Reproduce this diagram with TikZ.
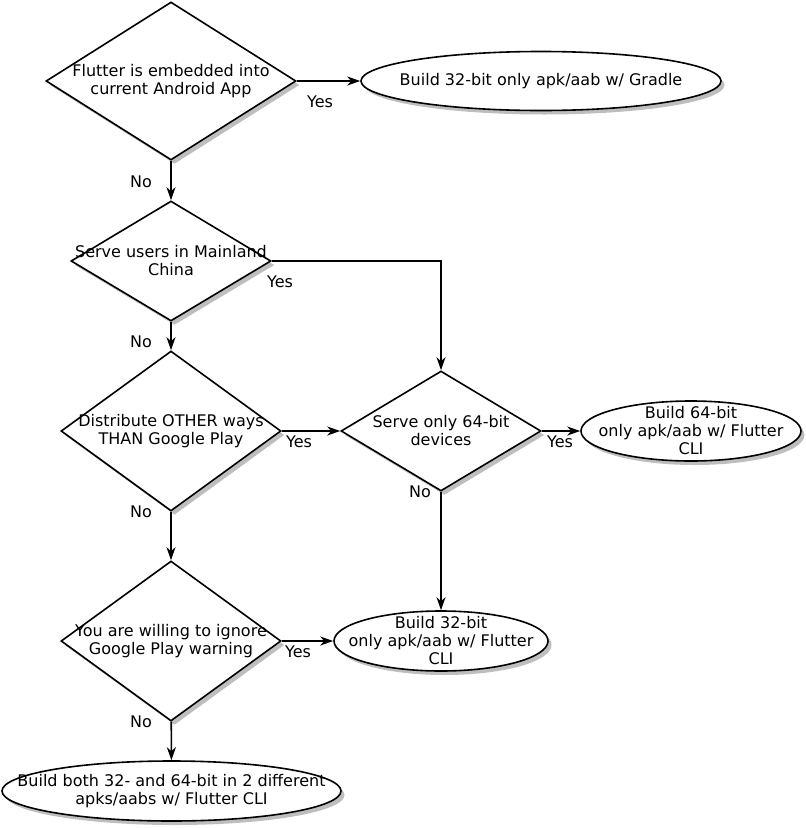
\documentclass[tikz,border=0pt]{standalone}
\usepackage{fontspec}
\setmainfont{DejaVu Sans}
\usepackage{tikz}
\usetikzlibrary{arrows.meta,positioning,shapes.geometric,calc,shadows}
\definecolor{FlowInk}{HTML}{000000}
\definecolor{FlowShade}{HTML}{BEBEBE}

\begin{document}
\begin{tikzpicture}[x=1pt,y=-1pt,font=\fontsize{16}{18}\selectfont,
  flowshadow/.style={drop shadow={shadow xshift=3.5pt,shadow yshift=-4pt,fill=FlowShade,opacity=1}},
  decision/.style={diamond,draw=FlowInk,line width=1.6pt,fill=white,inner sep=0pt,flowshadow},
  outcome/.style={ellipse,draw=FlowInk,line width=1.6pt,fill=white,inner sep=0pt,flowshadow},
  txt/.style={align=center,inner sep=0pt},
  lbl/.style={inner sep=0pt},
  arr/.style={-{Stealth[length=13pt,width=9pt,inset=4pt]},line width=1.6pt,draw=FlowInk}]
\useasboundingbox (0,0) rectangle (806,828);

% questions
\node[decision,minimum width=250pt,minimum height=158pt] (q1) at (171,81) {};
\node[decision,minimum width=200pt,minimum height=120pt] (q2) at (171,261) {};
\node[decision,minimum width=220pt,minimum height=160pt] (q3) at (171,431) {};
\node[decision,minimum width=200pt,minimum height=120pt] (q4) at (441,431) {};
\node[decision,minimum width=220pt,minimum height=160pt] (q5) at (171,641) {};

% results
\node[outcome,minimum width=360pt,minimum height=59pt] (r1) at (541,81) {};
\node[outcome,minimum width=220pt,minimum height=60pt] (r2) at (691,431) {};
\node[outcome,minimum width=214pt,minimum height=60pt] (r3) at (441,641) {};
\node[outcome,minimum width=339pt,minimum height=60pt] (r4) at (171.5,791) {};

\node[txt] (q1t) at (q1) {Flutter is embedded into\\current Android App};
\node[txt] (q2t) at (q2) {Serve users in Mainland\\China};
\node[txt] (q3t) at (q3) {Distribute OTHER ways\\THAN Google Play};
\node[txt] (q4t) at (q4) {Serve only 64-bit\\devices};
\node[txt] (q5t) at (q5) {You are willing to ignore\\Google Play warning};
\node[txt] (r1t) at (r1) {Build 32-bit only apk/aab w/ Gradle};
\node[txt] (r2t) at (r2) {Build 64-bit\\only apk/aab w/ Flutter\\CLI};
\node[txt] (r3t) at (r3) {Build 32-bit\\only apk/aab w/ Flutter\\CLI};
\node[txt] (r4t) at (r4) {Build both 32- and 64-bit in 2 different\\apks/aabs w/ Flutter CLI};

% connectors
\draw[arr] (q1) -- (r1);
\draw[arr] (q1) -- (q2);
\draw[arr] (q2.east) -| (q4.north);
\draw[arr] (q2) -- (q3);
\draw[arr] (q3) -- (q4);
\draw[arr] (q3) -- (q5);
\draw[arr] (q4) -- (r2);
\draw[arr] (q4) -- (r3);
\draw[arr] (q5) -- (r3);
\draw[arr] (q5) -- (r4);

\node[lbl] (yes1) at (320,102) {Yes};
\node[lbl] (yes2) at (280,282) {Yes};
\node[lbl] (yes3) at (299,442) {Yes};
\node[lbl] (yes4) at (560,442) {Yes};
\node[lbl] (yes5) at (298,652) {Yes};
\node[lbl] (no1) at (141,182) {No};
\node[lbl] (no2) at (141,342) {No};
\node[lbl] (no3) at (141,512) {No};
\node[lbl] (no4) at (420,492) {No};
\node[lbl] (no5) at (141,722) {No};
\end{tikzpicture}
\end{document}
